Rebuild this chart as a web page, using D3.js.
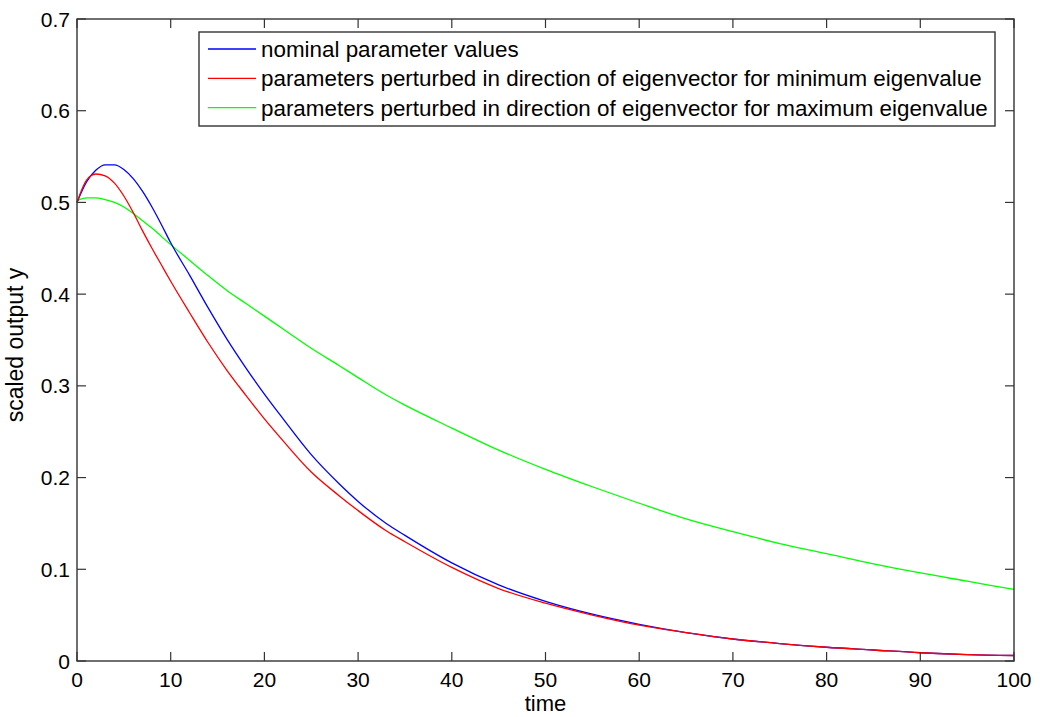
<!DOCTYPE html>
<html>
<head>
<meta charset="utf-8">
<script src="https://cdn.jsdelivr.net/npm/d3@7"></script>
<style>
  body { margin: 0; background: #fff; }
  svg { display: block; font-family: "Liberation Sans", Arial, sans-serif; }
  .tick-label { font-size: 21px; fill: #000; }
  .axis-title { font-size: 22px; fill: #000; }
  .legend-text { font-size: 22.4px; fill: #000; }
</style>
</head>
<body>
<div id="chart"></div>
<script>
////////// DATA //////////

const times = [0, 1, 2, 3, 4, 5, 6, 7, 8, 9, 10, 12, 14, 16, 18, 20, 22, 25, 28, 30, 33, 35,
  40, 45, 50, 55, 60, 65, 70, 75, 80, 85, 90, 95, 100];

const nominal = [0.500, 0.522, 0.535, 0.541, 0.541, 0.536, 0.526, 0.512, 0.495, 0.476, 0.456,
  0.421, 0.385, 0.351, 0.320, 0.291, 0.264, 0.225, 0.193, 0.174, 0.150, 0.137,
  0.107, 0.083, 0.065, 0.051, 0.040, 0.031, 0.024, 0.019, 0.015, 0.012, 0.009, 0.007, 0.006];

const minEigen = [0.500, 0.524, 0.531, 0.529, 0.521, 0.507, 0.489, 0.469, 0.450, 0.432, 0.414,
  0.380, 0.347, 0.317, 0.290, 0.264, 0.240, 0.206, 0.180, 0.164, 0.142, 0.130,
  0.102, 0.079, 0.063, 0.050, 0.039, 0.031, 0.024, 0.019, 0.015, 0.012, 0.009, 0.007, 0.006];

const maxEigen = [0.502, 0.505, 0.505, 0.503, 0.500, 0.495, 0.488, 0.480, 0.472, 0.463, 0.454,
  0.437, 0.420, 0.404, 0.390, 0.376, 0.362, 0.341, 0.322, 0.309, 0.290, 0.279,
  0.254, 0.230, 0.209, 0.190, 0.172, 0.155, 0.141, 0.128, 0.117, 0.106, 0.096, 0.087, 0.078];

const seriesNames = [
  "nominal parameter values",
  "parameters perturbed in direction of eigenvector for minimum eigenvalue",
  "parameters perturbed in direction of eigenvector for maximum eigenvalue"
];
const seriesColors = ["#0000ff", "#ff0000", "#00ff00"];

const xTicks = [0, 10, 20, 30, 40, 50, 60, 70, 80, 90, 100];
const yTicks = [0, 0.1, 0.2, 0.3, 0.4, 0.5, 0.6, 0.7];


////////// SETUP //////////

const W = 1042, H = 717;
const margin = { top: 19, right: 28, bottom: 56, left: 77 };
const width = W - margin.left - margin.right;
const height = H - margin.top - margin.bottom;

let x = d3.scaleLinear().domain([0, 100]).range([0, width]);
let y = d3.scaleLinear().domain([0, 0.7]).range([height, 0]);

let svg = d3.select("#chart")
  .append("svg")
  .attr("width", W)
  .attr("height", H);

let g = svg.append("g")
  .attr("transform", "translate(" + margin.left + "," + margin.top + ")");


////////// LINES //////////

const allSeries = [nominal, minEigen, maxEigen];

let line = d3.line()
  .x((d, i) => x(times[i]))
  .y(d => y(d))
  .curve(d3.curveMonotoneX);

// green first so blue/red sit on top like the original
[2, 0, 1].forEach(k => {
  g.append("path")
    .datum(allSeries[k])
    .attr("fill", "none")
    .attr("stroke", seriesColors[k])
    .attr("stroke-width", 1.3)
    .attr("d", line);
});


////////// AXES //////////

const tickLen = 9;
const axisColor = "#333";

// box
g.append("rect")
  .attr("x", 0).attr("y", 0)
  .attr("width", width).attr("height", height)
  .attr("fill", "none")
  .attr("stroke", axisColor)
  .attr("stroke-width", 1.4);

// x ticks (bottom and top, inward)
xTicks.forEach(t => {
  g.append("line")
    .attr("x1", x(t)).attr("x2", x(t))
    .attr("y1", height).attr("y2", height - tickLen)
    .attr("stroke", axisColor).attr("stroke-width", 1.2);
  g.append("line")
    .attr("x1", x(t)).attr("x2", x(t))
    .attr("y1", 0).attr("y2", tickLen)
    .attr("stroke", axisColor).attr("stroke-width", 1.2);
  g.append("text")
    .attr("class", "tick-label")
    .attr("x", x(t))
    .attr("y", height + 26)
    .attr("text-anchor", "middle")
    .text(t);
});

// y ticks (left and right, inward)
yTicks.forEach(v => {
  g.append("line")
    .attr("x1", 0).attr("x2", tickLen)
    .attr("y1", y(v)).attr("y2", y(v))
    .attr("stroke", axisColor).attr("stroke-width", 1.2);
  g.append("line")
    .attr("x1", width).attr("x2", width - tickLen)
    .attr("y1", y(v)).attr("y2", y(v))
    .attr("stroke", axisColor).attr("stroke-width", 1.2);
  g.append("text")
    .attr("class", "tick-label")
    .attr("x", -7)
    .attr("y", y(v) + 7.5)
    .attr("text-anchor", "end")
    .text(v);
});

// axis titles
g.append("text")
  .attr("class", "axis-title")
  .attr("x", width / 2)
  .attr("y", height + 50)
  .attr("text-anchor", "middle")
  .text("time");

g.append("text")
  .attr("class", "axis-title")
  .style("font-size", "23px")
  .attr("transform", "translate(" + (-54) + "," + (height / 2 + 5) + ") rotate(-90)")
  .attr("text-anchor", "middle")
  .text("scaled output y");


////////// LEGEND //////////

let legend = svg.append("g")
  .attr("transform", "translate(199,32)");

legend.append("rect")
  .attr("width", 796)
  .attr("height", 94)
  .attr("fill", "#fff")
  .attr("stroke", axisColor)
  .attr("stroke-width", 1.4);

seriesNames.forEach((name, i) => {
  let rowY = 17 + i * 29.3;
  legend.append("line")
    .attr("x1", 9).attr("x2", 57)
    .attr("y1", rowY).attr("y2", rowY)
    .attr("stroke", seriesColors[i])
    .attr("stroke-width", 1.3);
  legend.append("text")
    .attr("class", "legend-text")
    .attr("x", 62)
    .attr("y", rowY + 8)
    .text(name);
});
</script>
</body>
</html>
